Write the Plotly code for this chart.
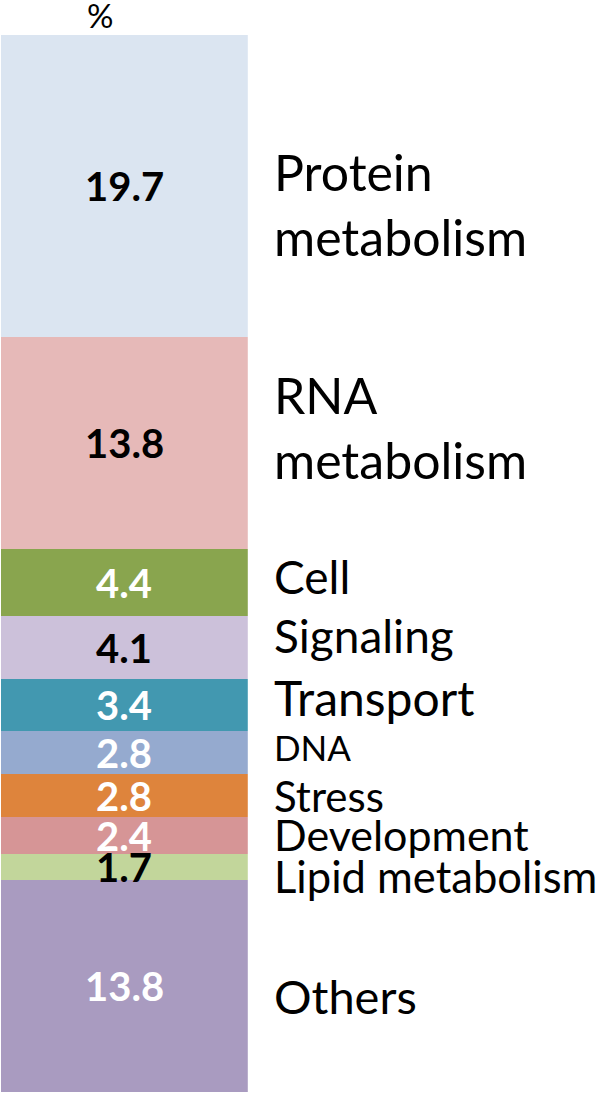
import plotly.graph_objects as go

categories = ["Protein<br>metabolism", "RNA<br>metabolism", "Cell", "Signaling", "Transport",
              "DNA", "Stress", "Development", "Lipid metabolism", "Others"]
values = [19.7, 13.8, 4.4, 4.1, 3.4, 2.8, 2.8, 2.4, 1.7, 13.8]
unit_label = "%"

# styles (not data)
colors = ["#DBE5F1", "#E6B9B8", "#89A54E", "#CCC1DA", "#4298B0",
          "#95AACF", "#DE843C", "#D69596", "#C2D69B", "#A99BC0"]
value_font_colors = ["black", "black", "white", "black", "white",
                     "white", "white", "white", "black", "white"]
label_sizes = [50, 50, 46, 46, 48, 35, 42, 43, 43.5, 47]
label_yshift = [-18, 16, 6, 12, 8, 6, 0, 1, -9, -10]

total = sum(values)
fig = go.Figure()
base = 0.0
for i, (cat, v) in enumerate(zip(categories, values)):
    fig.add_trace(go.Bar(
        x=[0], y=[v], width=1, name=cat,
        marker=dict(color=colors[i], line=dict(width=0)),
        hoverinfo="skip", showlegend=False,
    ))
    mid = base + v / 2
    fig.add_annotation(x=0, y=mid, xref="x", yref="y", text="<b>%s</b>" % v,
                       showarrow=False, xanchor="center", yanchor="middle",
                       font=dict(family="Lato", size=40, color=value_font_colors[i]))
    fig.add_annotation(x=0.452, y=mid, xref="paper", yref="y", text=cat,
                       showarrow=False, xanchor="left", yanchor="middle", align="left",
                       yshift=label_yshift[i],
                       font=dict(family="Lato", size=label_sizes[i], color="black"))
    base += v

fig.add_annotation(x=0.165, y=1, xref="paper", yref="paper", text=unit_label,
                   showarrow=False, xanchor="center", yanchor="middle", yshift=20,
                   font=dict(family="Lato", size=33, color="black"))

fig.update_layout(
    width=600, height=1094,
    margin=dict(l=1, r=0, t=35, b=2),
    barmode="stack", bargap=0,
    plot_bgcolor="white", paper_bgcolor="white",
    xaxis=dict(domain=[0, 0.412], range=[-0.5, 0.5], visible=False, fixedrange=True),
    yaxis=dict(range=[total, 0], visible=False, fixedrange=True),
)

fig.write_html("out.html", config={"displayModeBar": False},
               post_script="document.body.style.margin='0';document.body.style.overflow='hidden';")
